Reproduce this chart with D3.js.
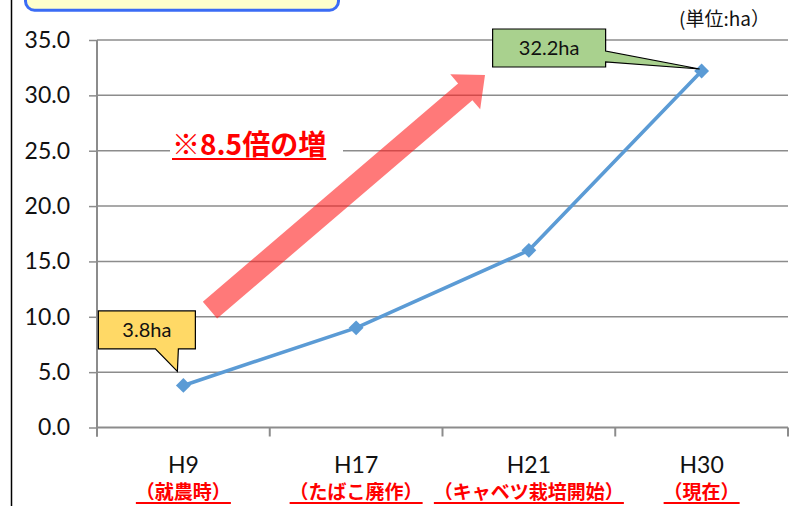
<!DOCTYPE html>
<html>
<head>
<meta charset="utf-8">
<script src="https://cdn.jsdelivr.net/npm/d3@7"></script>
<style>
  html, body { margin: 0; padding: 0; background: #fff; }
  svg { display: block; }
</style>
</head>
<body>
<svg id="chart" width="798" height="506"></svg>
<script>
// Cultivated area by period (ha)
const categories = ["H9", "H17", "H21", "H30"];
const notes = ["（就農時）", "（たばこ廃作）", "（キャベツ栽培開始）", "（現在）"];
const areaHa = [3.8, 9.0, 16.0, 32.2];
const yTicks = [0, 5, 10, 15, 20, 25, 30, 35];
const unitLabel = "(単位:ha）";
const growthLabel = "※8.5倍の増";

const latin = "Lato, 'Noto Sans', sans-serif";
const cjk = "'Noto Sans CJK JP', 'Noto Sans', sans-serif";
const gridColor = "#8c8c8c";
const lineColor = "#5B9BD5";

const svg = d3.select("#chart");

const x = d3.scaleBand().domain(categories).range([97, 788]);
const y = d3.scaleLinear().domain([0, 35]).range([427.5, 40]);
const cx = c => x(c) + x.bandwidth() / 2;
// position along the category axis by fractional index
const xi = i => x(categories[0]) + x.bandwidth() / 2 + i * x.step();

// frame line on the left edge
svg.append("line").attr("x1", 11.5).attr("x2", 11.5).attr("y1", 0).attr("y2", 506)
  .attr("stroke", "#000").attr("stroke-width", 1.5);

// title box (top edge runs off the page)
svg.append("rect").attr("x", 25.5).attr("y", -20).attr("width", 313).attr("height", 30.2)
  .attr("rx", 9).attr("fill", "#FFFFCC").attr("stroke", "#3B6CF5").attr("stroke-width", 3);

// horizontal gridlines
svg.append("g").selectAll("line").data(yTicks.filter(d => d > 0)).join("line")
  .attr("x1", x.range()[0]).attr("x2", x.range()[1])
  .attr("y1", d => y(d)).attr("y2", d => y(d))
  .attr("stroke", gridColor).attr("stroke-width", 1.5);

// y axis
const yAxis = svg.append("g").attr("transform", `translate(${x.range()[0]},0)`)
  .call(d3.axisLeft(y).tickValues(yTicks).tickSize(8).tickPadding(19)
    .tickFormat(d3.format(".1f")));
yAxis.select(".domain").remove();
yAxis.selectAll(".tick line").attr("stroke", gridColor).attr("stroke-width", 1.5);
yAxis.selectAll(".tick text").attr("font-family", latin).attr("font-size", 23)
  .attr("fill", "#111");
svg.append("line").attr("x1", x.range()[0]).attr("x2", x.range()[0])
  .attr("y1", y(35)).attr("y2", y(0) + 9)
  .attr("stroke", gridColor).attr("stroke-width", 2);

// x axis baseline and category boundary ticks
svg.append("line").attr("x1", x.range()[0]).attr("x2", x.range()[1])
  .attr("y1", y(0)).attr("y2", y(0)).attr("stroke", gridColor).attr("stroke-width", 2);
const edges = categories.map(c => x(c)).concat([x.range()[1]]);
svg.append("g").selectAll("line").data(edges).join("line")
  .attr("x1", d => d).attr("x2", d => d).attr("y1", y(0)).attr("y2", y(0) + 9)
  .attr("stroke", gridColor).attr("stroke-width", 2);

// category labels
svg.append("g").selectAll("text").data(categories).join("text")
  .attr("x", d => cx(d)).attr("y", 473)
  .attr("text-anchor", "middle").attr("font-family", latin).attr("font-size", 23)
  .attr("fill", "#111").text(d => d);

// red notes with underline
const noteG = svg.append("g");
categories.forEach((c, i) => {
  const t = noteG.append("text").attr("x", cx(c)).attr("y", 498.5)
    .attr("text-anchor", "middle").attr("font-family", cjk).attr("font-weight", "bold")
    .attr("font-size", 19).attr("fill", "#FF0000").text(notes[i]);
  const w = t.node().getComputedTextLength();
  noteG.append("line").attr("x1", cx(c) - w / 2).attr("x2", cx(c) + w / 2)
    .attr("y1", 503).attr("y2", 503).attr("stroke", "#FF0000").attr("stroke-width", 2);
});

// unit label
svg.append("text").attr("x", 770).attr("y", 26).attr("text-anchor", "end")
  .attr("font-family", cjk).attr("font-size", 19).attr("fill", "#111").text(unitLabel);

// growth arrow
(function () {
  const x0 = xi(0.154), y0 = y(10.6), x1 = xi(1.746), y1 = y(31.85);
  const dx = x1 - x0, dy = y1 - y0, len = Math.hypot(dx, dy);
  const ux = dx / len, uy = dy / len, nx = -uy, ny = ux;
  const shaft = 11, head = 23, headLen = 26;
  const bx = x1 - ux * headLen, by = y1 - uy * headLen;
  const pts = [
    [x0 + nx * shaft, y0 + ny * shaft],
    [bx + nx * shaft, by + ny * shaft],
    [bx + nx * head, by + ny * head],
    [x1, y1],
    [bx - nx * head, by - ny * head],
    [bx - nx * shaft, by - ny * shaft],
    [x0 - nx * shaft, y0 - ny * shaft]
  ];
  svg.append("path").attr("d", d3.line()(pts) + "Z")
    .attr("fill", "#FF2020").attr("fill-opacity", 0.6);
})();

// growth label on white background
svg.append("rect").attr("x", 170).attr("y", 126).attr("width", 173).attr("height", 35)
  .attr("fill", "#fff");
const gt = svg.append("text").attr("x", 172).attr("y", 155)
  .attr("font-family", cjk).attr("font-weight", "bold").attr("font-size", 28)
  .attr("fill", "#FF0000").text(growthLabel);
const gw = gt.node().getComputedTextLength();
svg.append("line").attr("x1", 172).attr("x2", 172 + gw).attr("y1", 159).attr("y2", 159)
  .attr("stroke", "#FF0000").attr("stroke-width", 2);

// series line and markers
const pts = categories.map((c, i) => [cx(c), y(areaHa[i])]);
svg.append("path").attr("d", d3.line()(pts)).attr("fill", "none")
  .attr("stroke", lineColor).attr("stroke-width", 3.6);
svg.append("g").selectAll("path").data(pts).join("path")
  .attr("transform", d => `translate(${d[0]},${d[1]}) rotate(45)`)
  .attr("d", d3.symbol(d3.symbolSquare, 110)).attr("fill", lineColor);

// callout for first value (pointer below)
(function () {
  const [px, py] = pts[0];
  const l = px - 85, r = px + 12, t = py - 74.5, b = py - 36.5;
  const d = `M${l},${t}H${r}V${b}H${px - 5}L${px - 6},${py - 14}L${px - 28},${b}H${l}Z`;
  svg.append("path").attr("d", d).attr("fill", "#FFD966").attr("stroke", "#000").attr("stroke-width", 1.2);
  svg.append("text").attr("x", (l + r) / 2).attr("y", (t + b) / 2 + 7)
    .attr("text-anchor", "middle").attr("font-family", latin).attr("font-size", 20)
    .attr("fill", "#111").text(`${areaHa[0]}ha`);
})();

// callout for last value (pointer to the right)
(function () {
  const [px, py] = pts[3];
  const l = px - 209, r = px - 96, t = py - 42, b = py - 4;
  const d = `M${l},${t}H${r}V${py - 20}L${px - 2},${py - 2}L${r},${py - 9}V${b}H${l}Z`;
  svg.append("path").attr("d", d).attr("fill", "#A9D18E").attr("stroke", "#000").attr("stroke-width", 1.2);
  svg.append("text").attr("x", (l + r) / 2).attr("y", (t + b) / 2 + 7)
    .attr("text-anchor", "middle").attr("font-family", latin).attr("font-size", 20)
    .attr("fill", "#111").text(`${areaHa[3]}ha`);
})();
</script>
</body>
</html>
